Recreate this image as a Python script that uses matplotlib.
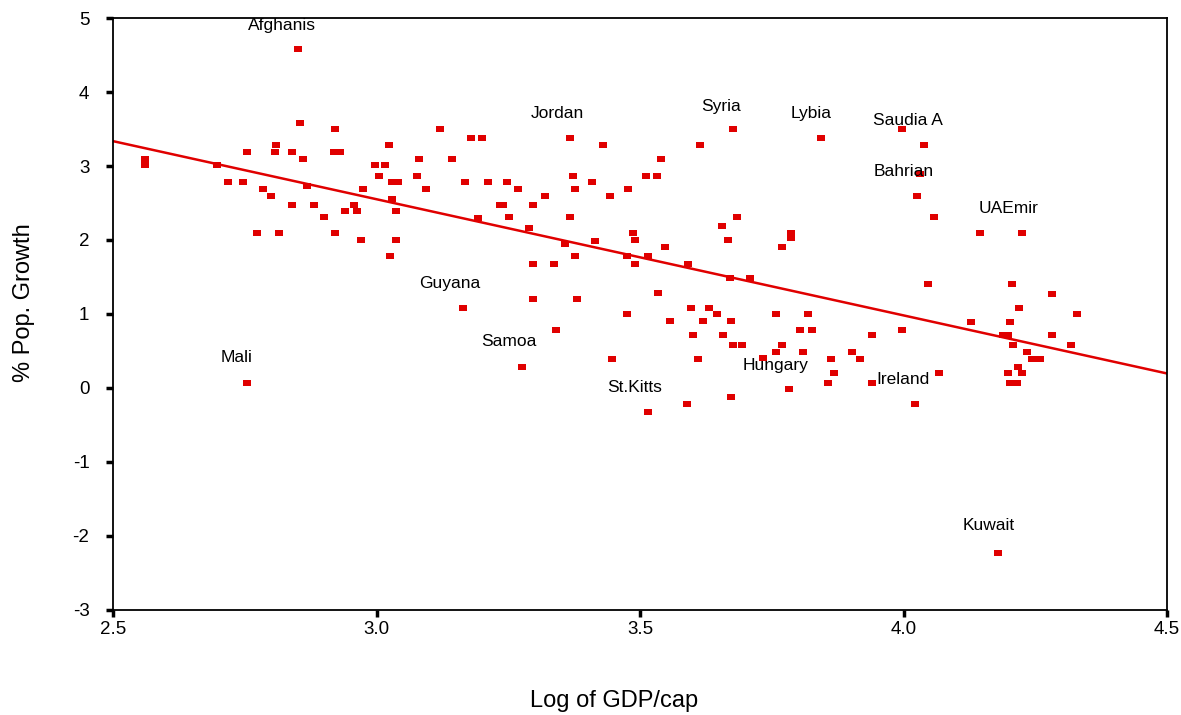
import matplotlib
matplotlib.use("Agg")
import matplotlib.pyplot as plt
import numpy as np

plt.rcParams['font.family'] = ['Liberation Sans', 'DejaVu Sans']
plt.rcParams['axes.unicode_minus'] = False

# log of GDP per capita for each country
log_gdp = [2.56, 2.56, 2.851, 2.855, 2.921, 3.12, 3.18, 3.20, 2.754, 2.81,
           2.807, 2.84, 2.86, 2.92, 2.93, 3.024, 3.08, 3.143, 2.697, 2.718,
           2.747, 2.785, 2.80, 2.84, 2.868, 2.881, 2.90, 2.94, 2.957, 2.963,
           2.974, 2.997, 3.016, 3.005, 3.03, 3.04, 3.03, 3.037, 3.077, 3.094,
           3.168, 3.212, 3.193, 3.234, 2.773, 2.815, 2.921, 2.97, 3.037, 3.026,
           3.164, 2.754, 3.367, 3.43, 3.614, 3.676, 3.843, 3.54, 3.511, 3.532,
           3.373, 3.248, 3.409, 3.269, 3.377, 3.477, 3.32, 3.443, 3.24, 3.297,
           3.367, 3.251, 3.684, 3.656, 3.667, 3.787, 3.787, 3.77, 3.487, 3.49,
           3.547, 3.29, 3.358, 3.415, 3.377, 3.297, 3.337, 3.475, 3.49, 3.515,
           3.591, 3.671, 3.709, 3.534, 3.297, 3.38, 3.475, 3.557, 3.597, 3.631,
           3.646, 3.62, 3.673, 3.758, 3.819, 3.804, 3.826, 3.94, 3.34, 3.60,
           3.657, 3.676, 3.694, 3.77, 3.758, 3.809, 3.902, 3.917, 3.862, 3.868,
           3.857, 3.94, 3.276, 3.447, 3.61, 3.783, 3.673, 3.589, 3.515, 3.733,
           3.997, 4.039, 4.031, 4.026, 4.058, 4.145, 4.225, 4.046, 4.206, 4.282,
           4.219, 4.329, 4.128, 4.202, 3.997, 4.189, 4.198, 4.282, 4.208, 4.318,
           4.234, 4.244, 4.259, 4.217, 4.198, 4.225, 4.202, 4.215, 4.067, 4.022,
           4.179]

# population growth in percent
pop_growth = [3.10, 3.02, 4.58, 3.58, 3.50, 3.50, 3.38, 3.38, 3.19, 3.28,
              3.19, 3.19, 3.10, 3.19, 3.19, 3.28, 3.10, 3.10, 3.01, 2.79,
              2.79, 2.69, 2.59, 2.47, 2.73, 2.47, 2.31, 2.39, 2.47, 2.39,
              2.69, 3.01, 3.01, 2.87, 2.79, 2.79, 2.56, 2.39, 2.87, 2.69,
              2.79, 2.79, 2.30, 2.47, 2.09, 2.09, 2.09, 2.00, 2.00, 1.78,
              1.08, 0.07, 3.38, 3.28, 3.28, 3.50, 3.38, 3.10, 2.87, 2.87,
              2.87, 2.79, 2.79, 2.69, 2.69, 2.69, 2.59, 2.59, 2.47, 2.47,
              2.31, 2.31, 2.31, 2.19, 2.00, 2.09, 2.03, 1.90, 2.09, 2.00,
              1.90, 2.16, 1.94, 1.98, 1.78, 1.68, 1.68, 1.78, 1.68, 1.78,
              1.67, 1.48, 1.48, 1.28, 1.20, 1.20, 1.00, 0.90, 1.08, 1.08,
              1.00, 0.90, 0.90, 1.00, 1.00, 0.79, 0.79, 0.71, 0.79, 0.71,
              0.71, 0.58, 0.58, 0.58, 0.48, 0.48, 0.48, 0.39, 0.39, 0.20,
              0.07, 0.07, 0.29, 0.39, 0.39, -0.01, -0.12, -0.21, -0.32, 0.40,
              3.50, 3.28, 2.89, 2.60, 2.31, 2.09, 2.09, 1.40, 1.40, 1.27,
              1.08, 1.00, 0.89, 0.89, 0.79, 0.71, 0.71, 0.71, 0.58, 0.58,
              0.48, 0.39, 0.39, 0.29, 0.20, 0.20, 0.07, 0.07, 0.20, -0.21,
              -2.23]

# fitted regression line (intercept, slope)
fit_coef = [7.261, -1.57]

# country labels and where they sit
label_names = ["Afghanis", "Jordan", "Syria", "Lybia", "Saudia A", "Bahrian",
               "UAEmir", "Guyana", "Samoa", "Mali", "St.Kitts", "Hungary",
               "Ireland", "Kuwait"]
label_x = [2.821, 3.344, 3.654, 3.824, 4.008, 4.0, 4.20, 3.138, 3.251,
           2.735, 3.489, 3.758, 3.999, 4.162]
label_y = [4.90, 3.71, 3.80, 3.71, 3.62, 2.92, 2.42, 1.41, 0.63,
           0.41, 0.0, 0.30, 0.11, -1.86]

red = '#e00000'

fig = plt.figure(figsize=(11.81, 7.15), dpi=100)
ax = fig.add_axes([0.0957, 0.1469, 0.8925, 0.8279])

# wide little rectangles like the original markers
rect = [(-1.3, -1), (1.3, -1), (1.3, 1), (-1.3, 1), (-1.3, -1)]
ax.scatter(log_gdp, pop_growth, marker=rect, s=30, color=red, linewidths=0, zorder=3)

xs = np.array([2.5, 4.5])
ax.plot(xs, fit_coef[0] + fit_coef[1] * xs, color=red, lw=1.8, zorder=2)

for name, lx, ly in zip(label_names, label_x, label_y):
    ax.text(lx, ly, name, ha='center', va='center', fontsize=12.5, color='black', zorder=4)

ax.set_xlim(2.5, 4.5)
ax.set_ylim(-3, 5)
ax.set_xticks([2.5, 3.0, 3.5, 4.0, 4.5])
ax.set_xticklabels(["2.5", "3.0", "3.5", "4.0", "4.5"])
ax.set_yticks(range(-3, 6))
ax.tick_params(direction='out', length=5, width=2.5, labelsize=13.5)
ax.tick_params(axis='x', pad=3)
ax.tick_params(axis='y', pad=12)

for s in ax.spines.values():
    s.set_linewidth(1.3)

ax.set_xlabel("Log of GDP/cap", fontsize=17)
ax.set_ylabel("% Pop. Growth", fontsize=17)
ax.xaxis.set_label_coords(0.475, -0.135)
ax.yaxis.set_label_coords(-0.074, 0.52)

fig.savefig("out.png", dpi=100)
